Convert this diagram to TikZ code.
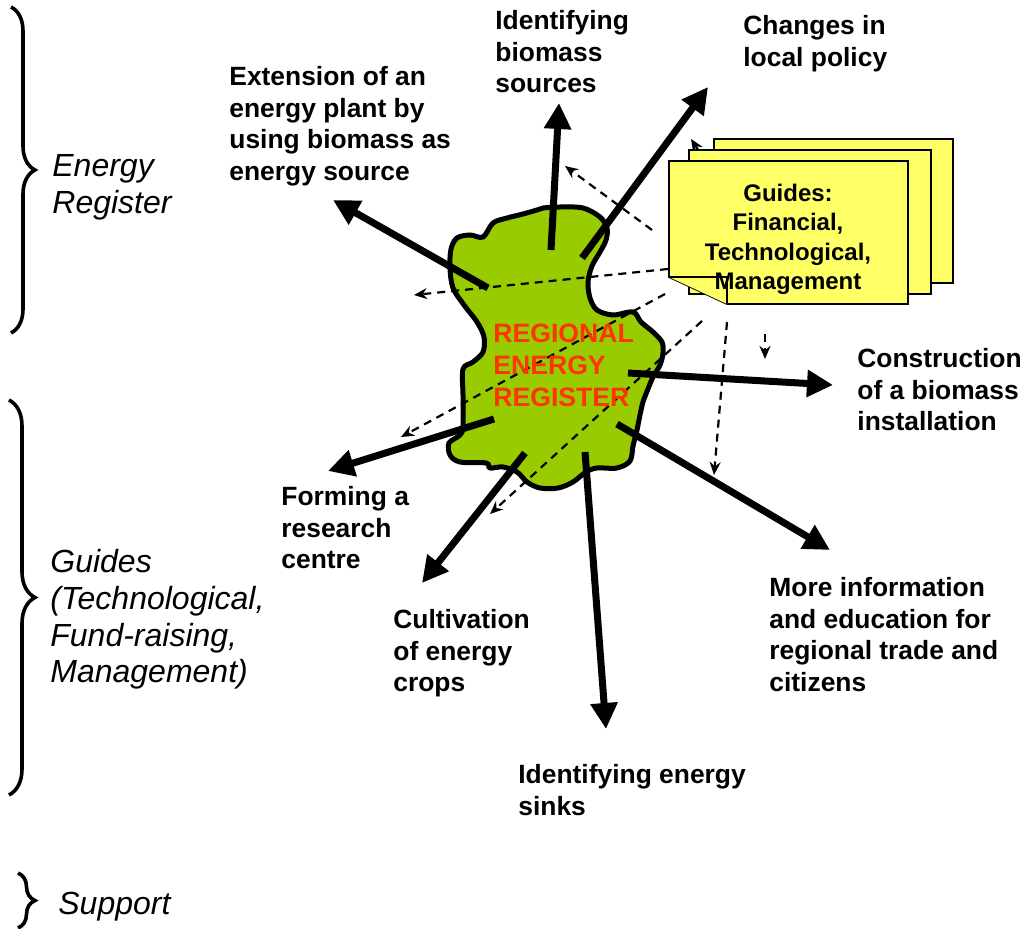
\documentclass[tikz,border=0pt]{standalone}
\usepackage{fontspec}
\setmainfont{Liberation Sans}
\usetikzlibrary{arrows.meta,decorations.pathreplacing}
\definecolor{blobgreen}{RGB}{153,204,0}
\definecolor{regred}{RGB}{255,51,0}
\definecolor{noteyellow}{RGB}{255,255,102}
\tikzset{
  lbl/.style={anchor=north west,inner sep=0pt,align=left,font=\bfseries\fontsize{13.2}{15.85}\selectfont},
  side/.style={anchor=north west,inner sep=0pt,align=left,font=\itshape\fontsize{16}{18.4}\selectfont},
  bigarrow/.style={line width=3.5pt,-{Triangle[length=13pt,width=13pt]}},
  dasharrow/.style={line width=1.1pt,dash pattern=on 4pt off 3pt,-{Stealth[length=6.5pt,width=5.5pt]}},
  sidebrace/.style={line width=1.8pt,decorate,decoration={brace,amplitude=#1}},
  page/.style={draw=black,line width=0.9pt,fill=noteyellow}
}
\begin{document}
\begin{tikzpicture}[x=0.5pt,y=-0.5pt]
\useasboundingbox (0,0) rectangle (1033,929);

% braces and side labels
\draw[sidebrace=12pt] (11,7) -- (11,333);
\draw[sidebrace=13pt] (9,400) -- (9,795);
\draw[sidebrace=8.5pt] (18,873) -- (18,928);
\node[side] (sER) at (52,154) {Energy\\Register};
\node[side] (sGU) at (50,549) {Guides\\(Technological,\\Fund-raising,\\Management)};
\node[side] (sSU) at (58,892) {Support};

% blob
\draw[line width=2.5pt,fill=blobgreen] plot[smooth cycle,tension=0.55] coordinates {
(543,208) (560,207) (583,208) (600,217) (607,228) (606,240) (600,252) (592,266)
(588,282) (590,298) (597,310) (613,315) (633,312) (641,322) (653,332) (662,342)
(663,353) (660,365) (653,377) (648,389) (643,402) (640,415) (637,430) (633,446)
(630,461) (617,468) (597,468) (586,472) (573,482) (558,488) (540,488) (527,482)
(517,472) (503,467) (490,468) (486,463) (460,462) (450,455) (449,443) (460,435)
(463,426) (463,395) (463,369) (473,362) (483,352) (484,337) (477,322) (464,305)
(453,288) (450,268) (451,249) (457,238) (470,235) (483,237) (493,223) (507,218)
(523,214) (537,210)};

% thick arrows
\coordinate (sBio) at (551,250);  \coordinate (tBio) at (559,103);
\coordinate (sPol) at (582,258);  \coordinate (tPol) at (708,87);
\coordinate (sExt) at (488,288);  \coordinate (tExt) at (333,200);
\coordinate (sCon) at (628,373);  \coordinate (tCon) at (833,385);
\coordinate (sFor) at (494,419);  \coordinate (tFor) at (328,471);
\coordinate (sCul) at (525,453);  \coordinate (tCul) at (422,583);
\coordinate (sSnk) at (585,452);  \coordinate (tSnk) at (606,729);
\coordinate (sInf) at (617,424);  \coordinate (tInf) at (830,550);
\foreach \a in {Bio,Pol,Ext,Con,For,Cul,Snk,Inf}{\draw[bigarrow] (s\a) -- (t\a);}

% dashed arrows from the guides
\coordinate (g1) at (652,230); \coordinate (h1) at (565,166);
\coordinate (g2) at (668,269); \coordinate (h2) at (414,295);
\coordinate (g3) at (665,294); \coordinate (h3) at (401,437);
\coordinate (g4) at (702,321); \coordinate (h4) at (490,514);
\coordinate (g5) at (727,322); \coordinate (h5) at (714,475);
\coordinate (g6) at (765,334); \coordinate (h6) at (765,359);
\coordinate (g7) at (700,153); \coordinate (h7) at (691,139);
\foreach \i in {1,...,7}{\draw[dasharrow] (g\i) -- (h\i);}

% guides pages
\draw[page] (714,139) rectangle (953,283);
\draw[page] (689,150) rectangle (931,294);
\draw[page] (669,161) -- (908,161) -- (908,304) -- (727,304) -- (669,277) -- cycle;
\draw[page] (669,277) -- (727,277) -- (727,304);
\node[anchor=north,inner sep=0pt,align=center,font=\bfseries\fontsize{12}{14.6}\selectfont] (guides) at (788,184) {Guides:\\Financial,\\Technological,\\Management};

% centre text
\node[anchor=north west,inner sep=0pt,align=left,text=regred,font=\bfseries\fontsize{13.3}{16}\selectfont] (reg) at (493,324) {REGIONAL\\ENERGY\\REGISTER};

% labels
\node[lbl] (lBio) at (495,10) {Identifying\\biomass\\sources};
\node[lbl] (lPol) at (743,15) {Changes in\\local policy};
\node[lbl] (lExt) at (229,66) {Extension of an\\energy plant by\\using biomass as\\energy source};
\node[lbl] (lCon) at (857,348) {Construction\\of a biomass\\installation};
\node[lbl] (lFor) at (281,486) {Forming a\\research\\centre};
\node[lbl] (lCul) at (393,609) {Cultivation\\of energy\\crops};
\node[lbl] (lInf) at (769,577) {More information\\and education for\\regional trade and\\citizens};
\node[lbl] (lSnk) at (518,764) {Identifying energy\\sinks};
\end{tikzpicture}
\end{document}
